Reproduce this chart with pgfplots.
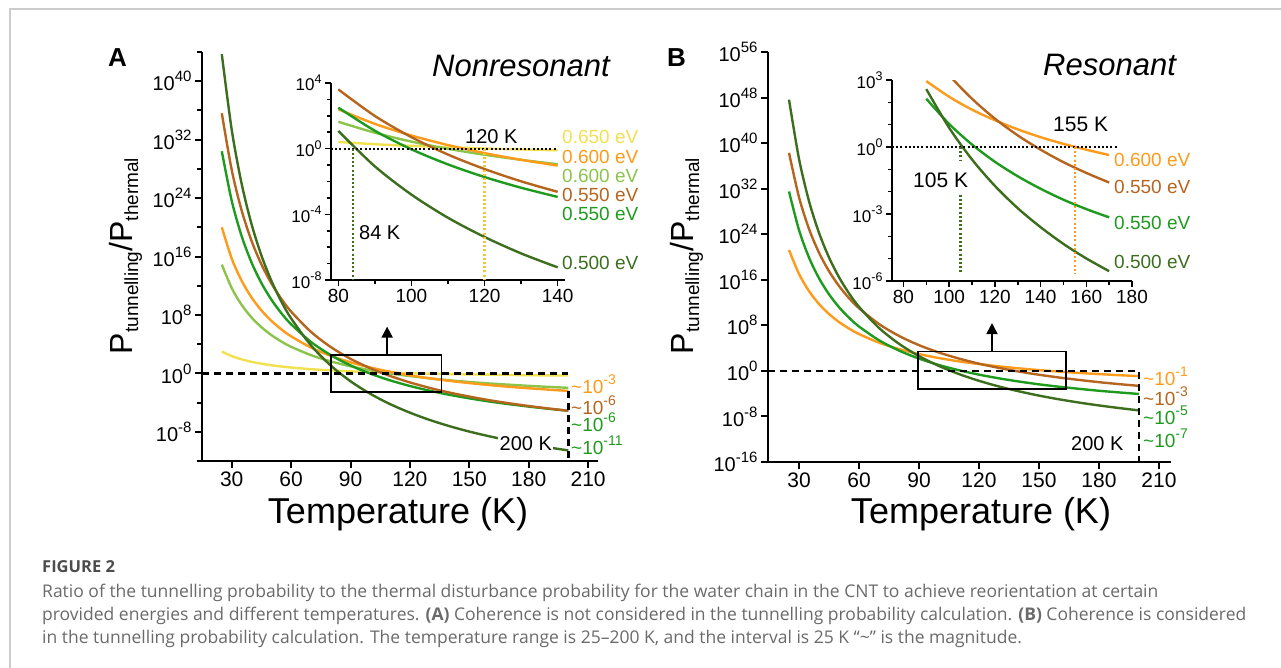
\documentclass[border=0pt]{standalone}
\usepackage{fontspec}
\setmainfont{Liberation Sans}
\newfontfamily\capfont{Open Sans}
\usepackage{pgfplots}
\usepackage{pgfplotstable}
\pgfplotsset{compat=1.18}
\usetikzlibrary{arrows.meta}

\definecolor{cdg}{HTML}{3C6E1E}
\definecolor{cbr}{HTML}{B5651D}
\definecolor{cgr}{HTML}{1E9B1E}
\definecolor{cor}{HTML}{FF9B1A}
\definecolor{clg}{HTML}{8CC44B}
\definecolor{cye}{HTML}{F2E14F}
\definecolor{cframe}{HTML}{CCCCCC}
\definecolor{ccap}{HTML}{6A6A6A}

\newcommand\fs[1]{\fontsize{#1}{#1}\selectfont}
% 10 with a raised exponent: exponent, exponent size, raise
\newcommand\pw[3]{10\raisebox{#3}{\fs{#2}#1}}

% log10 of P_tunnelling/P_thermal, nonresonant
\pgfplotstableread{
T    dg      br     gr     or     lg     ye
25   43.70   35.62  30.41  20.00  14.89  2.99
30   33.37   27.86  23.64  15.73  11.68  2.36
35   25.99   22.32  18.81  12.69   9.38  1.92
40   20.45   18.16  15.19  10.40   7.66  1.58
45   16.14   14.93  12.37   8.62   6.32  1.32
50   12.70   12.34  10.11   7.20   5.25  1.11
55    9.88   10.22   8.26   6.04   4.37  0.94
60    7.53    8.46   6.73   5.07   3.64  0.80
70    3.84    5.69   4.31   3.54   2.50  0.57
80    1.08    3.61   2.50   2.40   1.64  0.41
90   -1.08    1.99   1.09   1.51   0.97  0.27
100  -2.80    0.70  -0.04   0.80   0.43  0.17
110  -4.21   -0.36  -0.96   0.22  -0.01  0.09
120  -5.38   -1.24  -1.73  -0.27  -0.37  0.01
130  -6.38   -1.99  -2.38  -0.68  -0.68 -0.05
140  -7.23   -2.63  -2.94  -1.03  -0.95 -0.10
150  -7.97   -3.18  -3.42  -1.33  -1.18 -0.14
160  -8.61   -3.67  -3.85  -1.60  -1.38 -0.18
170  -9.18   -4.09  -4.22  -1.84  -1.55 -0.22
180  -9.69   -4.47  -4.55  -2.04  -1.71 -0.25
190  -10.14  -4.81  -4.85  -2.23  -1.85 -0.28
200  -10.55  -5.12  -5.12  -2.40  -1.98 -0.30
}\dataA

% log10 of P_tunnelling/P_thermal, resonant
\pgfplotstableread{
T    or     br     gr     dg
25   21.24  38.29  31.51  47.63
30   17.02  30.50  24.74  37.24
35   14.01  24.93  19.90  29.81
40   11.75  20.76  16.27  24.25
45    9.99  17.51  13.45  19.91
50    8.58  14.91  11.19  16.45
55    7.43  12.78   9.34  13.62
60    6.47  11.01   7.80  11.25
70    4.96   8.23   5.38   7.54
80    3.83   6.14   3.57   4.76
90    2.95   4.52   2.16   2.59
100   2.25   3.22   1.03   0.86
110   1.67   2.16   0.11  -0.56
120   1.20   1.27  -0.66  -1.74
130   0.79   0.52  -1.31  -2.74
140   0.44  -0.12  -1.87  -3.59
150   0.14  -0.68  -2.36  -4.34
160  -0.12  -1.16  -2.78  -4.99
170  -0.36  -1.59  -3.15  -5.56
180  -0.56  -1.98  -3.49  -6.07
190  -0.75  -2.32  -3.78  -6.52
200  -0.92  -2.63  -4.05  -6.94
}\dataB

\tikzset{
  dashline/.style={black, line width=2.6pt, dash pattern=on 7pt off 5pt},
  dotline/.style={line width=2.2pt, dash pattern=on 2pt off 2.2pt},
}
\pgfplotsset{
  mainax/.style={
    scale only axis, anchor=south west,
    axis x line*=bottom, axis y line*=left,
    axis line style={line width=2.4pt,-},
    every tick/.style={black, line width=2pt},
    tick align=outside,
    major tick length=7pt, minor tick length=5pt,
    /pgf/number format/assume math mode=true,
    xticklabel style={font=\fs{21}},
    yticklabel style={font=\fs{20}},
    yticklabel={\pw{\pgfmathprintnumber{\tick}}{15}{9pt}},
  },
  insetax/.style={
    scale only axis, anchor=south west,
    axis x line*=bottom, axis y line*=left,
    axis line style={line width=2pt,-},
    every tick/.style={black, line width=1.6pt},
    tick align=outside,
    major tick length=6pt, minor tick length=4pt,
    /pgf/number format/assume math mode=true,
    xticklabel style={font=\fs{19}},
    yticklabel style={font=\fs{17}},
    yticklabel={\pw{\pgfmathprintnumber{\tick}}{12.5}{7.5pt}},
  },
  crv/.style={line width=2.4pt, smooth},
}

\begin{document}
\begin{tikzpicture}
\path[use as bounding box] (0,0) rectangle (1281pt,-668pt);
\draw[cframe, line width=1.5pt] (10pt,-668pt) -- (10pt,-9pt) -- (1281pt,-9pt);

% ---------- panel A ----------
\begin{axis}[mainax, at={(202pt,-461pt)}, width=396pt, height=409pt,
  xmin=15, xmax=215, ymin=-12, ymax=44,
  xtick={30,60,...,210}, ytick={-8,0,...,40}, minor ytick={-12,-4,...,44}]
\addplot[cye, crv] table[x=T,y=ye]{\dataA};
\addplot[clg, crv] table[x=T,y=lg]{\dataA};
\addplot[cor, crv] table[x=T,y=or]{\dataA};
\addplot[cgr, crv] table[x=T,y=gr]{\dataA};
\addplot[cbr, crv] table[x=T,y=br]{\dataA};
\addplot[cdg, crv] table[x=T,y=dg]{\dataA};
\draw[dashline] (axis cs:15,0) -- (axis cs:200,0);
\draw[dashline] (axis cs:200,-2.4) -- (axis cs:200,-12);
\draw[line width=1.8pt] (axis cs:80,2.5) rectangle (axis cs:136,-2.6);
\draw[line width=1.8pt, -{Triangle[width=11pt,length=11pt]}] (axis cs:108.5,2.5) -- (axis cs:108.5,6.4);
\end{axis}

\begin{axis}[insetax, at={(331pt,-280pt)}, width=234pt, height=197pt,
  xmin=78, xmax=142, ymin=-8, ymax=4,
  xtick={80,100,120,140}, minor xtick={90,110,130},
  ytick={-8,-4,0,4}, minor ytick={-7,-6,-5,-3,-2,-1,1,2,3}]
\addplot[cye, crv, restrict x to domain=80:140] table[x=T,y=ye]{\dataA};
\addplot[clg, crv, restrict x to domain=80:140] table[x=T,y=lg]{\dataA};
\addplot[cor, crv, restrict x to domain=80:140] table[x=T,y=or]{\dataA};
\addplot[cgr, crv, restrict x to domain=80:140] table[x=T,y=gr]{\dataA};
\addplot[cbr, crv, restrict x to domain=80:140] table[x=T,y=br]{\dataA};
\addplot[cdg, crv, restrict x to domain=80:140] table[x=T,y=dg]{\dataA};
\draw[dotline, black] (axis cs:78,0) -- (axis cs:140,0);
\draw[dotline, cdg] (axis cs:84,0) -- (axis cs:84,-8);
\draw[dotline, cye!70!orange] (axis cs:120,0) -- (axis cs:120,-8);
\end{axis}

% ---------- panel B ----------
\begin{axis}[mainax, at={(768pt,-462pt)}, width=403pt, height=410pt,
  xmin=14.5, xmax=216, ymin=-16, ymax=56,
  xtick={30,60,...,210}, ytick={-16,-8,...,56}]
\addplot[cor, crv] table[x=T,y=or]{\dataB};
\addplot[cgr, crv] table[x=T,y=gr]{\dataB};
\addplot[cbr, crv] table[x=T,y=br]{\dataB};
\addplot[cdg, crv] table[x=T,y=dg]{\dataB};
\draw[dashline] (axis cs:14.5,0) -- (axis cs:200,0) -- (axis cs:200,-16);
\draw[line width=1.8pt] (axis cs:89.5,3.4) rectangle (axis cs:163.5,-3.2);
\draw[line width=1.8pt, -{Triangle[width=11pt,length=11pt]}] (axis cs:126.5,3.4) -- (axis cs:126.5,8.4);
\end{axis}

\begin{axis}[insetax, at={(892pt,-281pt)}, width=240pt, height=201pt,
  xmin=75, xmax=180, ymin=-6, ymax=3,
  xtick={80,100,...,180}, minor xtick={90,110,...,170},
  ytick={-6,-3,0,3}, minor ytick={-5,-4,-2,-1,1,2}]
\addplot[cor, crv, restrict x to domain=90:170] table[x=T,y=or]{\dataB};
\addplot[cbr, crv, restrict x to domain=90:170] table[x=T,y=br]{\dataB};
\addplot[cgr, crv, restrict x to domain=90:170] table[x=T,y=gr]{\dataB};
\addplot[cdg, crv, restrict x to domain=90:170] table[x=T,y=dg]{\dataB};
\draw[dotline, black] (axis cs:75,0) -- (axis cs:174,0);
\draw[dotline, cdg] (axis cs:105,0) -- (axis cs:105,-0.57);
\draw[dotline, cdg] (axis cs:105,-2.14) -- (axis cs:105,-5.7);
\draw[dotline, cor] (axis cs:155,0) -- (axis cs:155,-5.7);
\end{axis}

% ---------- texts ----------
\node[anchor=base west, font=\bfseries\fs{26}, inner sep=0] at (108pt,-67pt) {A};
\node[anchor=base west, font=\bfseries\fs{26}, inner sep=0] at (667pt,-67pt) {B};
\node[anchor=base west, font=\itshape\fs{31}, inner sep=0] at (432pt,-77pt) {Nonresonant};
\node[anchor=base west, font=\itshape\fs{31}, inner sep=0] at (1043pt,-76pt) {Resonant};

\node[rotate=90, anchor=base, inner sep=0] at (132pt,-256pt) {\fs{32}P\raisebox{-6pt}{\fs{19}tunnelling}/P\raisebox{-6pt}{\fs{19}thermal}};
\node[rotate=90, anchor=base, inner sep=0] at (693pt,-256pt) {\fs{32}P\raisebox{-6pt}{\fs{19}tunnelling}/P\raisebox{-6pt}{\fs{19}thermal}};
\node[anchor=base, font=\fs{36}, inner sep=0] at (398pt,-523pt) {Temperature (K)};
\node[anchor=base, font=\fs{36}, inner sep=0] at (981pt,-523pt) {Temperature (K)};

% inset A annotations
\node[anchor=base west, font=\fs{20}, inner sep=0] at (465pt,-144pt) {120 K};
\node[anchor=base west, font=\fs{20}, inner sep=0] at (359pt,-240pt) {84 K};
\begin{scope}[every node/.style={anchor=west, font=\fs{19}, inner sep=0}]
\node[text=cye] at (562pt,-137pt) {0.650 eV};
\node[text=cor] at (562pt,-157pt) {0.600 eV};
\node[text=clg] at (562pt,-176pt) {0.600 eV};
\node[text=cbr] at (562pt,-195pt) {0.550 eV};
\node[text=cgr] at (562pt,-214pt) {0.550 eV};
\node[text=cdg] at (562pt,-263pt) {0.500 eV};
\node[text=cor] at (1114pt,-160pt) {0.600 eV};
\node[text=cbr] at (1114pt,-187pt) {0.550 eV};
\node[text=cgr] at (1114pt,-223pt) {0.550 eV};
\node[text=cdg] at (1114pt,-262pt) {0.500 eV};
\end{scope}
% inset B annotations
\node[anchor=base west, font=\fs{21}, inner sep=0] at (1053pt,-132pt) {155 K};
\node[anchor=base west, font=\fs{21}, inner sep=0] at (913pt,-188pt) {105 K};

% main annotations
\node[anchor=base west, font=\fs{20}, fill=white, inner sep=1.5pt] at (498pt,-450pt) {200 K};
\node[anchor=base west, font=\fs{20}, inner sep=0] at (1071pt,-450pt) {200 K};
\begin{scope}[every node/.style={anchor=base west, font=\fs{19}, inner sep=0}]
\node[text=cor] at (571pt,-393pt) {\textasciitilde\pw{-3}{14}{8.5pt}};
\node[text=cbr] at (571pt,-414pt) {\textasciitilde\pw{-6}{14}{8.5pt}};
\node[text=cgr] at (571pt,-431pt) {\textasciitilde\pw{-6}{14}{8.5pt}};
\node[text=cgr] at (571pt,-454pt) {\textasciitilde\pw{-11}{14}{8.5pt}};
\node[text=cor] at (1143pt,-385pt) {\textasciitilde\pw{-1}{14}{8.5pt}};
\node[text=cbr] at (1143pt,-405pt) {\textasciitilde\pw{-3}{14}{8.5pt}};
\node[text=cgr] at (1143pt,-424pt) {\textasciitilde\pw{-5}{14}{8.5pt}};
\node[text=cgr] at (1143pt,-447pt) {\textasciitilde\pw{-7}{14}{8.5pt}};
\end{scope}

% caption
\begin{scope}[every node/.style={anchor=base west, inner sep=0, font=\capfont\fs{17.5}, text=ccap}]
\node[text=black!70, font=\capfont\bfseries\fs{16.5}] at (42pt,-572pt) {FIGURE 2};
\node at (42pt,-597pt) {Ratio of the tunnelling probability to the thermal disturbance probability for the water chain in the CNT to achieve reorientation at certain};
\node at (42pt,-620pt) {provided energies and different temperatures. \textbf{(A)} Coherence is not considered in the tunnelling probability calculation. \textbf{(B)} Coherence is considered};
\node at (42pt,-643pt) {in the tunnelling probability calculation. The temperature range is 25–200 K, and the interval is 25 K “\textasciitilde” is the magnitude.};
\end{scope}
\end{tikzpicture}
\end{document}
